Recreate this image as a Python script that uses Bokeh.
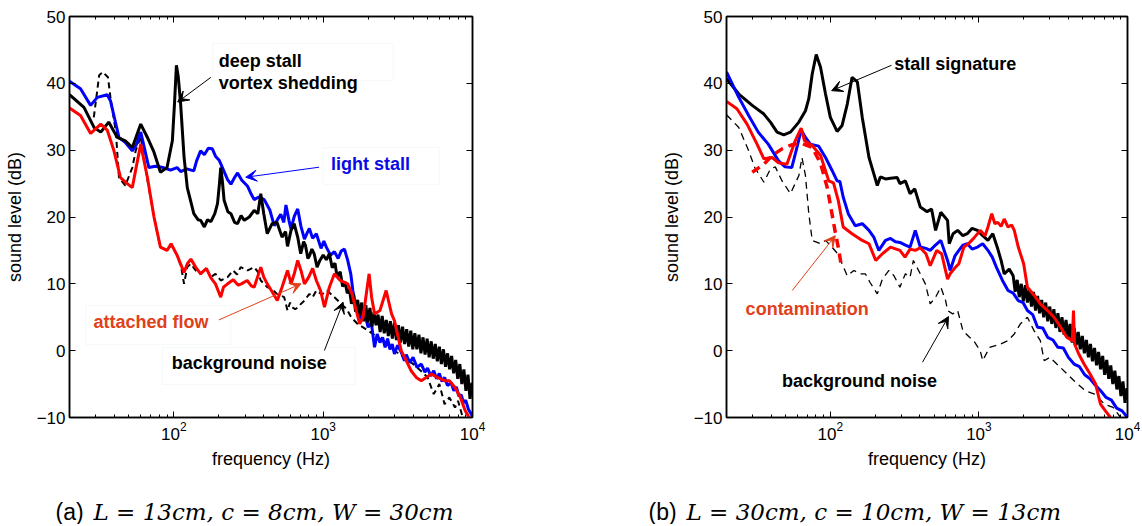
from bokeh.plotting import figure
from bokeh.layouts import row, column
from bokeh.models import (Range1d, LogAxis, LinearAxis, FixedTicker, Label, Arrow,
                          VeeHead, BoxAnnotation, CustomJSTickFormatter, LogTickFormatter)
from bokeh.embed import file_html
from bokeh.resources import INLINE

# ---------------- data: panel (a) ----------------
a_light = [(20, 40.3), (23.7, 39.2), (27.7, 36.7), (30.7, 37.9), (35.8, 38.3), (37.6, 37.4), (42.9, 31.9),
           (47, 31.2), (52.7, 29.9), (56, 30.8), (60, 32.7), (68, 27.4), (75, 27.6), (85, 27.4), (95, 27.0),
           (105, 27.4), (111, 26.8), (122, 27.2), (136, 26.9), (142, 28.4), (151, 29.9), (160, 29.3),
           (170, 30.3), (181, 30.2), (190, 29.1), (201, 28.5), (215, 27.0), (229, 25.6), (241, 24.9),
           (255, 25.9), (267, 26.6), (285, 25.5), (312, 24.6), (330, 23.4), (345, 22.6), (370, 23.0),
           (403, 22.6), (440, 21.0), (470, 18.7), (500, 19.8), (520, 20.4), (545, 19.2), (563, 21.8),
           (590, 19.5), (609, 18.2), (640, 20.1), (675, 21.2), (710, 18.6), (749, 16.7), (780, 17.6),
           (808, 18.3), (850, 16.8), (900, 17.5), (968, 15.3), (1010, 16.4), (1050, 15.5), (1120, 14.3),
           (1189, 14.8), (1260, 13.8), (1320, 14.9), (1388, 15.2), (1460, 13.5), (1530, 11.5), (1580, 9.0),
           (1622, 7.5), (1700, 6.5), (1795, 4.5), (1900, 5.5), (2000, 3.5), (2100, 4.2), (2208, 0.5),
           (2300, 2.5), (2400, 1.2), (2500, 2.0), (2600, 0.5), (2700, 1.8), (2800, 0.2), (2900, 1.0),
           (3000, -0.5), (3150, 0.8), (3330, -0.2), (3500, -1.5), (3600, -0.6), (3800, -1.8), (4000, -1.0),
           (4250, -2.5), (4540, -2.0), (4800, -3.2), (5000, -2.6), (5250, -3.8), (5500, -3.0), (5750, -4.2),
           (6000, -3.4), (6250, -4.6), (6505, -4.0), (6800, -5.2), (7200, -4.8), (7500, -6.0), (7800, -5.4),
           (8100, -6.8), (8410, -6.6), (8700, -7.8), (9000, -7.4), (9400, -8.8), (9870, -9.6), (10000, -10.0)]

a_deep = [(20, 38.3), (25, 36.4), (29.2, 33.4), (32.4, 32.7), (36.6, 34.2), (41.8, 31.9), (47.3, 31.4),
          (52.7, 30.4), (60, 33.9), (66.5, 31.9), (73.6, 29.7), (81.3, 26.7), (90, 27.4), (97.7, 31.4),
          (101, 37.0), (104, 42.7), (107, 41.0), (111, 36.9), (117, 29.0), (123, 24.4), (136, 20.5),
          (145, 19.6), (151, 19.5), (160, 18.5), (168, 19.6), (177, 19.3), (188, 20.5), (196, 22.0),
          (202, 25.0), (206, 27.4), (211, 25.5), (217, 22.5), (230, 20.8), (241, 20.5), (255, 19.2),
          (267, 19.0), (282, 20.2), (296, 19.5), (320, 20.0), (345, 21.0), (365, 20.5), (382, 23.5),
          (400, 20.5), (422, 17.5), (455, 19.0), (490, 19.2), (530, 17.0), (560, 17.8), (577, 15.6),
          (609, 18.0), (639, 19.0), (675, 17.0), (707, 14.5), (740, 16.3), (760, 15.8), (790, 13.8),
          (810, 14.2), (840, 15.2), (870, 14.5), (910, 12.5), (950, 13.5), (1000, 14.3), (1050, 13.6),
          (1100, 14.5), (1150, 12.4), (1200, 13.1), (1240, 11.0), (1300, 11.8), (1350, 9.6), (1400, 10.3),
          (1450, 8.6), (1500, 9.2), (1548, 7.0), (1598, 8.4), (1649, 5.8), (1702, 7.6), (1756, 5.2),
          (1812, 7.2), (1870, 4.4), (1930, 6.8), (1992, 4.2), (2056, 6.4), (2122, 3.6), (2190, 5.8),
          (2260, 3.8), (2332, 5.4), (2407, 2.8), (2484, 5.2), (2563, 2.6), (2645, 4.6), (2730, 2.2),
          (2817, 4.4), (2907, 1.8), (3000, 4.2), (3096, 1.6), (3195, 3.8), (3297, 1.2), (3403, 3.6),
          (3512, 1.0), (3624, 3.2), (3740, 0.6), (3860, 3.0), (3983, 0.2), (4111, 2.6), (4242, 0.2),
          (4378, 2.4), (4518, -0.4), (4663, 2.0), (4812, -0.6), (4966, 1.8), (5125, -1.0), (5289, 1.4),
          (5458, -1.2), (5633, 1.0), (5813, -1.6), (5999, 0.6), (6191, -2.0), (6389, 0.2), (6594, -2.4),
          (6805, -0.4), (7022, -2.8), (7247, -0.8), (7479, -3.4), (7718, -1.4), (7965, -4.2), (8220, -2.0),
          (8483, -5.0), (8754, -2.8), (9034, -6.0), (9324, -3.6), (9622, -7.2), (9930, -4.8), (10000, -6.5)]

a_attached = [(20, 36.3), (23.7, 35.2), (27.7, 32.5), (32.4, 33.9), (35.8, 33.0), (39.7, 29.9), (43.9, 25.9),
              (48, 25.1), (52.7, 24.4), (56, 27.5), (60, 30.9), (63, 28.5), (66.5, 25.9), (73.6, 20.0),
              (81.3, 15.5), (90, 15.0), (95.8, 16.0), (105, 14.3), (117, 11.7), (123, 13.0), (130, 13.7),
              (140, 12.5), (151, 11.5), (165, 12.3), (177, 10.9), (190, 10.0), (206, 8.0), (215, 9.5),
              (229, 10.0), (250, 10.6), (270, 9.8), (283, 10.0), (310, 10.5), (330, 9.7), (345, 9.5),
              (382, 12.5), (400, 11.0), (422, 10.0), (450, 9.0), (493, 7.5), (530, 9.5), (577, 12.0),
              (610, 10.0), (640, 11.5), (675, 13.5), (710, 12.0), (749, 10.0), (800, 11.0), (850, 12.3),
              (900, 10.5), (960, 9.0), (1020, 6.5), (1100, 9.5), (1189, 11.5), (1300, 10.5), (1460, 10.0),
              (1560, 8.5), (1622, 7.0), (1755, 4.0), (1850, 5.0), (2030, 11.5), (2110, 8.0), (2210, 5.5),
              (2400, 6.0), (2640, 9.0), (2870, 5.5), (3000, 4.5), (3330, 0.0), (3600, -1.5), (3880, -3.0),
              (4200, -4.0), (4540, -4.5), (5310, -3.5), (5800, -4.0), (6500, -4.5), (7000, -4.5),
              (7640, -5.5), (8300, -7.0), (8940, -9.0), (9500, -10.0)]

a_background = [(29.1, 34.9), (31.6, 41.2), (33.4, 41.7), (36.2, 40.9), (37.6, 37.9), (40.9, 32.7), (42.9, 25.9),
                (47.3, 24.7), (52.7, 27.4), (55.5, 29.9), (60, 32.0), (66, 26.0), (73.6, 20.0), (81, 15.5),
                (90, 15.0), (96, 15.8), (105, 14.3), (112, 12.5), (117, 10.0), (123, 12.5), (130, 13.0),
                (140, 12.0), (151, 11.5), (165, 12.3), (177, 11.0), (190, 11.5), (206, 10.5), (229, 11.0),
                (249, 12.0), (265, 11.4), (280, 12.5), (312, 12.0), (345, 12.5), (365, 11.8), (382, 10.5),
                (422, 9.5), (455, 9.2), (490, 8.5), (548, 8.0), (577, 6.0), (600, 7.2), (620, 6.5), (650, 6.2),
                (680, 6.5), (710, 7.0), (749, 7.5), (808, 8.5), (850, 8.0), (900, 9.0), (980, 8.4), (1060, 9.0),
                (1189, 8.0), (1320, 7.0), (1440, 6.2), (1540, 5.0), (1700, 4.0), (2000, 3.0), (2500, 1.5),
                (3000, 0.0), (3500, -1.0), (4000, -2.0), (4500, -3.0), (5000, -4.0), (5500, -6.5), (6000, -5.0),
                (6500, -8.0), (7000, -7.0), (7640, -8.5), (8000, -7.5), (8600, -10.0)]

# ---------------- data: panel (b) ----------------
b_stall = [(20, 40.7), (24.2, 38.4), (29.8, 36.7), (35.7, 35.4), (39.5, 34.2), (43.8, 32.7), (48.6, 32.3),
           (53.9, 32.7), (61.4, 34.2), (68, 35.9), (71.6, 37.7), (75.5, 41.4), (80.3, 44.3), (85.9, 42.4),
           (92.8, 38.4), (100, 34.9), (111, 32.8), (120, 33.7), (130, 36.9), (140, 40.9), (152, 40.2),
           (164, 34.9), (182, 28.9), (196, 26.5), (207, 24.7), (217, 26.0), (235, 25.7), (254, 25.8),
           (282, 25.9), (294, 25.0), (320, 25.4), (344, 23.5), (370, 24.2), (403, 21.5), (448, 20.8),
           (480, 21.2), (511, 18.0), (554, 20.7), (615, 19.5), (631, 16.0), (670, 17.5), (719, 18.0),
           (780, 17.2), (835, 17.5), (900, 18.3), (978, 18.0), (1060, 17.2), (1150, 16.5), (1240, 17.5),
           (1340, 15.2), (1410, 13.5), (1480, 11.5), (1600, 12.2), (1700, 11.2), (1754, 8.8), (1810, 10.6),
           (1868, 8.0), (1928, 10.0), (1990, 7.4), (2054, 9.8), (2120, 7.2), (2188, 9.2), (2258, 6.6),
           (2330, 8.8), (2405, 6.0), (2482, 8.2), (2561, 5.6), (2643, 7.6), (2728, 5.0), (2815, 7.2),
           (2905, 4.4), (2998, 6.6), (3094, 4.0), (3193, 6.2), (3295, 3.4), (3401, 5.6), (3510, 2.8),
           (3622, 5.0), (3738, 2.4), (3858, 4.6), (3981, 1.8), (4109, 4.0), (4240, 1.2), (4376, 3.4),
           (4516, 0.8), (4661, 2.8), (4810, 0.2), (4964, 2.2), (5123, -0.4), (5287, 1.6), (5456, -1.0),
           (5631, 1.0), (5811, -1.6), (5997, 0.4), (6189, -2.2), (6387, -0.2), (6592, -2.8), (6803, -0.8),
           (7020, -3.6), (7245, -1.4), (7477, -4.2), (7716, -2.2), (7963, -5.0), (8218, -3.0), (8481, -5.8),
           (8752, -3.8), (9032, -6.8), (9321, -4.6), (9619, -7.8), (9927, -5.6), (10000, -7.4)]

b_blue = [(20, 41.7), (24.2, 37.9), (28.2, 35.2), (32.7, 32.7), (38.2, 30.9), (44.8, 28.4), (49.6, 27.5),
          (55, 27.4), (59.6, 30.4), (63.6, 33.0), (68, 31.9), (73.4, 30.9), (83.5, 30.6), (92.8, 28.9),
          (102.5, 27.0), (111, 25.4), (116, 25.3), (122, 23.0), (132, 20.5), (147, 18.7), (164, 19.0),
          (182, 18.0), (196, 17.0), (212, 15.0), (235, 16.5), (254, 16.8), (274, 16.3), (294, 16.2),
          (320, 15.8), (344, 15.5), (373, 18.0), (403, 15.5), (440, 15.3), (470, 15.0), (510, 15.8),
          (554, 16.5), (615, 13.5), (640, 12.0), (690, 14.2), (733, 15.0), (780, 15.8), (835, 16.0),
          (900, 15.2), (978, 15.5), (1060, 16.0), (1150, 15.0), (1230, 14.0), (1310, 12.5), (1440, 10.5),
          (1570, 9.0), (1700, 8.6), (1840, 7.5), (1980, 7.2), (2120, 6.0), (2300, 5.4), (2480, 3.5),
          (2690, 3.4), (2900, 2.0), (3150, 1.6), (3400, 0.5), (3700, 0.4), (4000, -1.0), (4370, -2.0),
          (4750, -2.4), (5150, -3.6), (5600, -4.2), (6100, -5.2), (6600, -6.0), (7180, -7.0), (7800, -7.4),
          (8450, -8.6), (9200, -9.0), (10000, -10.0)]

b_red = [(20, 37.3), (23.5, 36.2), (27.5, 33.9), (32.1, 30.9), (35.7, 28.7), (40.6, 28.9), (44.8, 28.1),
         (51, 27.9), (58, 31.4), (63.6, 33.3), (67, 31.4), (75.5, 30.7), (86, 29.2), (97.6, 25.4), (105, 25.1),
         (113, 22.5), (122, 18.5), (140, 17.5), (164, 16.5), (182, 16.0), (202, 13.5), (224, 14.5),
         (254, 15.5), (294, 15.0), (318, 14.0), (344, 15.2), (373, 15.0), (403, 15.4), (440, 14.5),
         (470, 12.7), (520, 15.0), (561, 14.5), (615, 10.7), (640, 11.5), (690, 12.4), (733, 13.0),
         (792, 15.5), (850, 16.0), (921, 16.8), (1020, 18.0), (1100, 17.2), (1150, 18.5), (1220, 20.5),
         (1280, 19.0), (1340, 19.2), (1410, 18.6), (1480, 19.7), (1570, 18.5), (1660, 18.8), (1730, 18.0),
         (1840, 15.5), (2000, 13.0), (2120, 9.5), (2350, 8.3), (2590, 7.0), (2900, 6.0), (3200, 5.0),
         (3550, 3.5), (3900, 2.0), (4250, 1.5), (4330, 6.0), (4400, 1.0), (4700, -0.5), (5100, -2.0),
         (5600, -3.5), (6100, -5.0), (6580, -8.0), (7100, -9.0), (7680, -10.0)]

b_contamination = [(29.8, 26.7), (35.7, 27.9), (40.6, 29.2), (47.3, 30.2), (55, 30.8), (64.4, 31.0),
                   (75.5, 30.4), (86, 28.0), (95.3, 24.4), (102.5, 20.5), (108, 17.7), (113, 15.5), (118, 13.0)]

b_background = [(20, 35.3), (24.2, 33.4), (28.2, 29.9), (31, 27.4), (35.7, 25.2), (39.5, 27.2), (42.6, 27.5),
                (47.3, 25.4), (53.9, 23.5), (61.4, 26.2), (64.4, 28.9), (68, 26.2), (71.6, 20.5), (75.5, 16.5),
                (86, 16.0), (92.8, 16.5), (102.5, 15.5), (112, 14.5), (120, 13.0), (130, 11.2), (144, 12.0),
                (159, 11.5), (172, 11.5), (185, 10.2), (207, 8.5), (224, 10.7), (248, 12.0), (268, 11.2),
                (294, 9.5), (320, 11.5), (344, 11.0), (362, 13.5), (403, 11.5), (436, 10.0), (470, 7.0),
                (511, 8.0), (554, 9.5), (597, 7.5), (615, 6.0), (666, 5.5), (719, 6.0), (780, 3.0), (864, 2.0),
                (921, 1.5), (1020, 0.0), (1060, -1.5), (1180, 0.5), (1400, 1.0), (1570, 1.5), (1730, 2.5),
                (1900, 4.0), (2120, 5.0), (2350, 3.0), (2590, 1.5), (2750, -1.5), (3000, -1.0), (3530, -2.5),
                (4370, -4.5), (5200, -6.0), (6000, -6.5), (7000, -8.0), (8000, -8.5), (9000, -10.0)]

y_ticks = [-10, 0, 10, 20, 30, 40, 50]
x_major = [100, 1000, 10000]
x_minor = [m * 10 ** e for e in (1, 2, 3) for m in range(2, 10) if 20 < m * 10 ** e < 10000]

FONT = "Liberation Sans"
BLUE = "#0000ff"
RED = "#ff0000"
ORANGE = "#e0401a"


def xy(series):
    return [s[0] for s in series], [s[1] for s in series]


def style_axis(ax, labels=True):
    ax.axis_line_width = 1.5
    ax.axis_line_color = "black"
    ax.major_tick_in = 6
    ax.major_tick_out = 0
    ax.minor_tick_in = 3
    ax.minor_tick_out = 0
    ax.major_tick_line_width = 1
    ax.minor_tick_line_width = 1
    ax.major_tick_line_color = "black"
    ax.minor_tick_line_color = "black"
    ax.major_label_text_font = FONT
    ax.major_label_text_font_size = "17px" if labels else "0px"
    ax.major_label_text_color = "black"
    ax.major_label_standoff = 4 if labels else 0
    ax.axis_label_text_font = FONT
    ax.axis_label_text_font_size = "18px"
    ax.axis_label_text_font_style = "normal"
    ax.axis_label_text_color = "black"
    ax.axis_label_standoff = 6


def panel(width, border_left, border_right):
    p = figure(width=width, height=476, x_axis_type="log",
               x_range=Range1d(20, 10000), y_range=Range1d(-10, 50),
               output_backend="svg", toolbar_location=None,
               min_border_left=border_left, min_border_right=border_right,
               min_border_top=16, min_border_bottom=59)
    p.grid.visible = False
    p.outline_line_color = "black"
    p.outline_line_width = 1.5
    p.background_fill_color = "white"
    p.border_fill_color = "white"
    xt = FixedTicker(ticks=x_major, minor_ticks=x_minor)
    yt = FixedTicker(ticks=y_ticks, minor_ticks=[])
    p.xaxis.ticker = xt
    p.xaxis.formatter = LogTickFormatter()
    p.xaxis.axis_label = "frequency (Hz)"
    p.yaxis.ticker = yt
    p.yaxis.formatter = CustomJSTickFormatter(code="return tick < 0 ? '\\u2212' + Math.abs(tick) : String(tick);")
    p.yaxis.axis_label = "sound level (dB)"
    style_axis(p.xaxis[0])
    style_axis(p.yaxis[0])
    p.yaxis[0].minor_tick_in = 0
    p.yaxis[0].axis_label_standoff = 9
    top = LogAxis(ticker=xt, formatter=CustomJSTickFormatter(code="return '';"))
    style_axis(top, labels=False)
    p.add_layout(top, "above")
    right = LinearAxis(ticker=yt, formatter=CustomJSTickFormatter(code="return '';"))
    style_axis(right, labels=False)
    right.minor_tick_in = 0
    p.add_layout(right, "right")
    return p


def note(p, x, y, text, color="black", size="18px"):
    p.add_layout(Label(x=x, y=y, text=text, text_font=FONT, text_font_style="bold",
                       text_font_size=size, text_color=color, text_align="left",
                       text_baseline="middle"))


def box(p, l, r, t, b):
    p.add_layout(BoxAnnotation(left=l, right=r, top=t, bottom=b, fill_color="white", fill_alpha=1.0,
                               line_color="#dfeaea", line_width=1))


def arrow(p, x0, y0, x1, y1, color="black", w=1.0):
    p.add_layout(Arrow(end=VeeHead(size=11, fill_color=color, line_color=color, line_width=1),
                       x_start=x0, y_start=y0, x_end=x1, y_end=y1,
                       line_color=color, line_width=w))


def caption_fig(width, x_tag, x_eq, tag, eq):
    c = figure(width=width, height=48, x_range=Range1d(0, width), y_range=Range1d(0, 48),
               output_backend="svg", toolbar_location=None,
               x_axis_location=None, y_axis_location=None, min_border=0)
    c.grid.visible = False
    c.outline_line_color = None
    c.background_fill_color = "white"
    c.border_fill_color = "white"
    c.add_layout(Label(x=x_tag, y=13, text=tag, text_font=FONT, text_font_size="23px",
                       text_align="left", text_baseline="middle", text_color="black"))
    c.add_layout(Label(x=x_eq, y=13, text=eq, text_font="DejaVu Serif", text_font_style="italic",
                       text_font_size="23px", text_align="left", text_baseline="middle",
                       text_color="black"))
    return c


# ---------------- panel (a) ----------------
pa = panel(568, 69, 96)
x, y = xy(a_background)
pa.line(x, y, line_color="black", line_width=2, line_dash="6 4")
x, y = xy(a_light)
pa.line(x, y, line_color=BLUE, line_width=3)
x, y = xy(a_deep)
pa.line(x, y, line_color="black", line_width=3)
x, y = xy(a_attached)
pa.line(x, y, line_color=RED, line_width=3)

box(pa, 182, 2945, 45.96, 40.4)
note(pa, 200, 43.4, "deep stall")
note(pa, 200, 40.1, "vortex shedding")
arrow(pa, 177, 40.9, 106, 37.2)

box(pa, 998, 6000, 30.4, 24.9)
note(pa, 1130, 28.0, "light stall", color="#0a0ae6")
arrow(pa, 938, 27.45, 303, 25.95, color=BLUE)

box(pa, 25.6, 241, 6.76, 0.92)
note(pa, 29, 4.36, "attached flow", color=ORANGE)
arrow(pa, 200, 4.6, 710, 10.0, color=ORANGE)

box(pa, 84, 1636, 0.47, -5.07)
note(pa, 96.8, -1.92, "background noise")
arrow(pa, 1019, 0.02, 1360, 7.25)

# ---------------- panel (b) ----------------
pb = panel(572, 158, 13)
x, y = xy(b_background)
pb.line(x, y, line_color="black", line_width=1.3, line_dash="7 5")
x, y = xy(b_stall)
pb.line(x, y, line_color="black", line_width=3)
x, y = xy(b_blue)
pb.line(x, y, line_color=BLUE, line_width=3)
x, y = xy(b_red)
pb.line(x, y, line_color=RED, line_width=3)
x, y = xy(b_contamination)
pb.line(x, y, line_color=RED, line_width=3.5, line_dash="9 6")

note(pb, 269, 42.9, "stall signature")
arrow(pb, 258, 42.7, 102, 38.9)
note(pb, 26.9, 6.3, "contamination", color=ORANGE)
arrow(pb, 55.4, 9.0, 108, 17.2, color=ORANGE)
note(pb, 47.3, -4.47, "background noise")
arrow(pb, 417, -1.73, 624, 5.1)

ca = caption_fig(568, 55, 93, "(a)", "L = 13cm, c = 8cm, W = 30cm")
cb = caption_fig(572, 80, 118, "(b)", "L = 30cm, c = 10cm, W = 13cm")

layout = column(row(pa, pb), row(ca, cb))
open("out.html", "w").write(file_html(layout, INLINE))
